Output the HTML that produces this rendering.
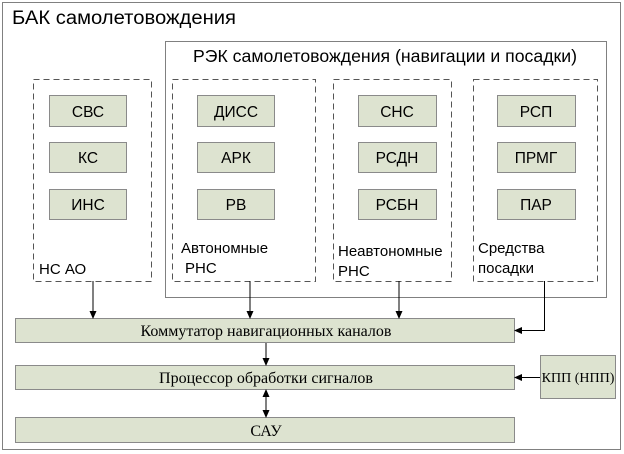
<!DOCTYPE html>
<html><head><meta charset="utf-8"><style>body{margin:0;background:#fff}svg{display:block}</style></head><body>
<svg width="624" height="454" viewBox="0 0 624 454" xmlns="http://www.w3.org/2000/svg">
<defs><marker id="a" markerWidth="8" markerHeight="8" refX="7" refY="4" orient="auto" markerUnits="userSpaceOnUse"><path d="M0,0.5 L8,4 L0,7.5 z" fill="#000"/></marker>
<marker id="b" markerWidth="8" markerHeight="8" refX="1" refY="4" orient="auto" markerUnits="userSpaceOnUse"><path d="M8,0.5 L0,4 L8,7.5 z" fill="#000"/></marker></defs>
<rect x="2.5" y="2.5" width="618" height="447" fill="#fff" stroke="#808080"/>
<g font-family="Liberation Sans, sans-serif" fill="#000">
<text x="12" y="24" font-size="19" textLength="224" lengthAdjust="spacingAndGlyphs">БАК самолетовождения</text>
<rect x="165.5" y="41.5" width="441" height="256" fill="none" stroke="#808080"/>
<text x="193" y="62" font-size="17.5" textLength="384" lengthAdjust="spacingAndGlyphs">РЭК самолетовождения (навигации и посадки)</text>
<g fill="none" stroke="#555" stroke-dasharray="6,4">
<rect x="33.5" y="79.5" width="118" height="202"/>
<rect x="172.5" y="79.5" width="143" height="202"/>
<rect x="333.5" y="79.5" width="118" height="202"/>
<rect x="473.5" y="79.5" width="124" height="202"/>
</g>
<g fill="#dde3d0" stroke="#8a8a8a">
<rect x="49.5" y="95.5" width="77" height="31"/><rect x="49.5" y="142.5" width="77" height="30"/><rect x="49.5" y="189.5" width="77" height="30"/>
<rect x="197.5" y="95.5" width="77" height="31"/><rect x="197.5" y="142.5" width="77" height="30"/><rect x="197.5" y="189.5" width="77" height="30"/>
<rect x="358.5" y="95.5" width="78" height="31"/><rect x="358.5" y="142.5" width="78" height="30"/><rect x="358.5" y="189.5" width="78" height="30"/>
<rect x="497.5" y="95.5" width="78" height="31"/><rect x="497.5" y="142.5" width="78" height="30"/><rect x="497.5" y="189.5" width="78" height="30"/>
<rect x="15.5" y="318.5" width="499" height="24"/>
<rect x="15.5" y="365.5" width="499" height="24"/>
<rect x="15.5" y="417.5" width="499" height="25"/>
<rect x="540.5" y="355.5" width="75" height="43"/>
</g>
<g font-size="15.5" text-anchor="middle">
<text x="88" y="117">СВС</text><text x="88" y="163">КС</text><text x="88" y="210">ИНС</text>
<text x="236" y="117">ДИСС</text><text x="236" y="163">АРК</text><text x="236" y="210">РВ</text>
<text x="397" y="117">СНС</text><text x="397" y="163">РСДН</text><text x="397" y="210">РСБН</text>
<text x="536" y="117">РСП</text><text x="536" y="163">ПРМГ</text><text x="536" y="210">ПАР</text>
</g>
<g font-size="15">
<text x="39" y="274">НС АО</text>
<text x="181" y="253">Автономные</text><text x="185" y="273">РНС</text>
<text x="338" y="256">Неавтономные</text><text x="338" y="276">РНС</text>
<text x="478" y="253">Средства</text><text x="478" y="273">посадки</text>
</g>
<g font-family="Liberation Serif, serif" font-size="16" text-anchor="middle">
<text x="266" y="336">Коммутатор навигационных каналов</text>
<text x="266" y="383">Процессор обработки сигналов</text>
<text x="266" y="436">САУ</text>
<text x="578" y="382" font-size="14">КПП (НПП)</text>
</g>
</g>
<g stroke="#000" fill="none">
<line x1="93" y1="281" x2="93" y2="318" marker-end="url(#a)"/>
<line x1="250" y1="281" x2="250" y2="318" marker-end="url(#a)"/>
<line x1="399" y1="281" x2="399" y2="318" marker-end="url(#a)"/>
<polyline points="544.5,281 544.5,330.5 515,330.5" marker-end="url(#a)"/>
<line x1="266" y1="343" x2="266" y2="365" marker-end="url(#a)"/>
<line x1="266" y1="390" x2="266" y2="417" marker-start="url(#b)" marker-end="url(#a)"/>
<line x1="540" y1="377.5" x2="515" y2="377.5" marker-end="url(#a)"/>
</g>
</svg>
</body></html>
